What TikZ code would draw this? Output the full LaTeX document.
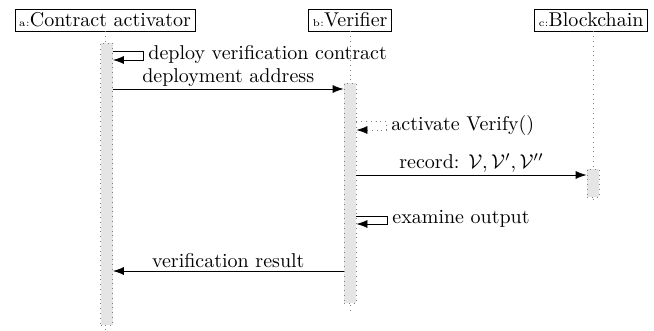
\documentclass[tikz,border=0pt]{standalone}
\usetikzlibrary{arrows.meta}
\begin{document}
\begin{tikzpicture}[x=0.5pt,y=-0.5pt,
  inst/.style={draw, thin, inner xsep=2pt, inner ysep=0pt, minimum height=11pt, text height=6.83pt, text depth=0pt},
  life/.style={draw=gray, dotted},
  act/.style={draw=gray, dotted, fill=gray!20, minimum width=6pt, inner sep=0pt},
  tip/.style={-{Latex[length=5.5pt,width=4pt,black]}},
  msg/.style={draw, thin, tip},
  selfmsg/.style={draw, thin, tip},
  dotmsg/.style={draw=gray, dotted, thin, tip},
  lbl/.style={inner sep=1pt, anchor=south},
  slbl/.style={inner sep=0pt, anchor=base west}]
\useasboundingbox (0,0) rectangle (654,331);
% instances
\node[inst] (a) at (105,20) {{\tiny a:}Contract activator};
\node[inst] (b) at (350,20) {{\tiny b:}Verifier};
\node[inst] (c) at (591,20) {{\tiny c:}Blockchain};
% lifeline ends
\coordinate (aend) at (105,331);
\coordinate (bend) at (350,310);
\coordinate (cend) at (593,204);
\draw[life] (a) -- (aend);
\draw[life] (b) -- (bend);
\draw[life] (c.south -| cend) -- (cend);
% activations
\node[act, minimum height=141pt] (actA) at (106.5,184) {};
\node[act, minimum height=110pt] (actB) at (350,193) {};
\node[act, minimum height=14pt] (actC) at (593,183) {};
% self call a
\draw[selfmsg] (actA.east |- 0,51) -- ++(30,0) -- ++(0,9) -- (actA.east |- 0,60);
\node[slbl] (l1) at (148,60) {deploy verification contract};
% deployment address
\draw[msg] (actA.east |- 0,89) -- node[lbl] (l2) {deployment address} (actB.west |- 0,89);
% activate Verify()
\draw[dotmsg] (actB.east |- 0,121) -- ++(30,0) -- ++(0,9) -- (actB.east |- 0,130);
\node[slbl] (l3) at (391,131) {activate Verify()};
% record
\draw[msg] (actB.east |- 0,175) -- node[lbl] (l4) {record: $\mathcal{V},\mathcal{V}',\mathcal{V}''$} (actC.west |- 0,175);
% examine output
\draw[selfmsg] (actB.east |- 0,216) -- ++(31,0) -- ++(0,8) -- (actB.east |- 0,224);
\node[slbl] (l5) at (392,224) {examine output};
% verification result
\draw[msg] (actB.west |- 0,271) -- node[lbl, inner sep=1.5pt] (l6) {verification result} (actA.east |- 0,271);
\end{tikzpicture}
\end{document}
